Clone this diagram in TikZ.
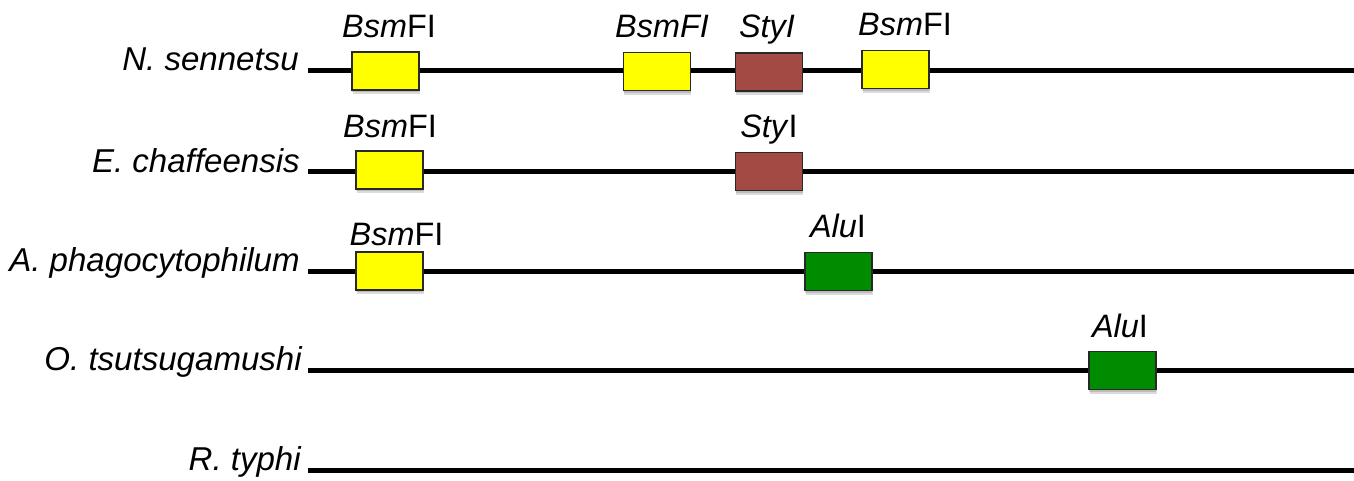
\documentclass[tikz,border=0pt]{standalone}
\usepackage{fontspec}
\setmainfont{Liberation Sans}
\usetikzlibrary{shadows}
\definecolor{siteyellow}{RGB}{255,255,0}
\definecolor{sitebrown}{RGB}{163,74,68}
\definecolor{sitegreen}{RGB}{0,140,0}
\definecolor{siteedge}{RGB}{40,40,40}
\tikzset{
  genome/.style={line width=3.75pt, black},
  species/.style={anchor=base east, inner sep=0pt, font=\fontsize{24.8}{25}\selectfont\itshape},
  enzyme/.style={anchor=base, inner sep=0pt, font=\fontsize{24.3}{25}\selectfont},
  sitebox/.style={draw=siteedge, line width=1.2pt, minimum width=50.25pt, minimum height=28.5pt, inner sep=0pt,
    double copy shadow={shadow xshift=0.3pt, shadow yshift=-1.6pt, opacity=0.14, draw=none, fill=black},
    },
  bsm/.style={sitebox, fill=siteyellow},
  sty/.style={sitebox, fill=sitebrown},
  alu/.style={sitebox, fill=sitegreen},
}
\begin{document}
\begin{tikzpicture}[x=0.75pt, y=-0.75pt]
  \useasboundingbox (0,0) rectangle (1354,480);

  % species names
  \node[species] (n1) at (299,70)  {N. sennetsu};
  \node[species] (n2) at (300,172) {E. chaffeensis};
  \node[species] (n3) at (300,271) {A. phagocytophilum};
  \node[species] (n4) at (302,370) {O. tsutsugamushi};
  \node[species] (n5) at (301,470) {R. typhi};

  % genome lines
  \foreach \i/\y in {1/70, 2/171, 3/271, 4/370, 5/470} {
    \coordinate (a\i) at (308,\y);
    \coordinate (b\i) at (1354,\y);
    \draw[genome] (a\i) -- (b\i);
  }

  % N. sennetsu
  \node[bsm] (r1s1) at (385.5,71) {};
  \node[bsm] (r1s2) at (657,71.5) {};
  \node[sty] (r1s3) at (769,72) {};
  \node[bsm] (r1s4) at (895.5,69.5) {};
  \node[enzyme] (l11) at (389,37) {\textit{Bsm}FI};
  \node[enzyme] (l12) at (662,37) {\textit{BsmFI}};
  \node[enzyme] (l13) at (767,37) {\textit{StyI}};
  \node[enzyme] (l14) at (905,35) {\textit{Bsm}FI};

  % E. chaffeensis
  \node[bsm] (r2s1) at (389.5,170) {};
  \node[sty] (r2s2) at (769,171.5) {};
  \node[enzyme] (l21) at (390,137) {\textit{Bsm}FI};
  \node[enzyme] (l22) at (769,137) {\textit{Sty}I};

  % A. phagocytophilum
  \node[bsm] (r3s1) at (389.5,271) {};
  \node[alu] (r3s2) at (838.5,271.5) {};
  \node[enzyme] (l31) at (396.5,245) {\textit{Bsm}FI};
  \node[enzyme] (l32) at (838,237) {\textit{Alu}I};

  % O. tsutsugamushi
  \node[alu] (r4s1) at (1122.5,370.5) {};
  \node[enzyme] (l41) at (1120,337) {\textit{Alu}I};
\end{tikzpicture}
\end{document}
